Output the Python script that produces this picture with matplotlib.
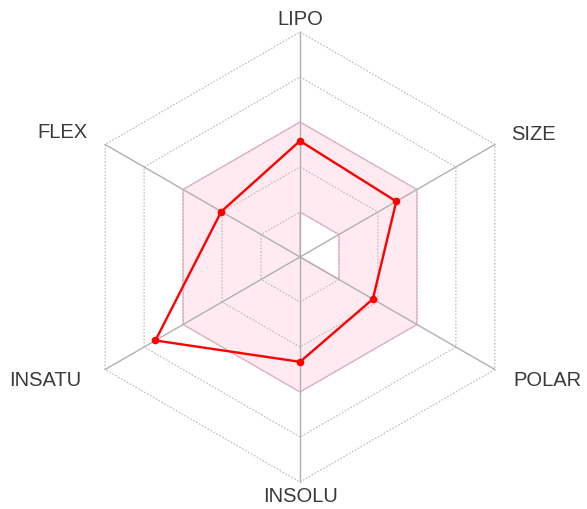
import numpy as np
import matplotlib.pyplot as plt
from matplotlib.patches import PathPatch
from matplotlib.path import Path

labels = ["LIPO", "SIZE", "POLAR", "INSOLU", "INSATU", "FLEX"]
values = [2.58, 2.47, 1.87, 2.33, 3.71, 2.02]
optimal_lo = [1, 1, 1, 0, 0, 0]
optimal_hi = [3, 3, 3, 3, 3, 3]
n_rings = 5

angles = np.deg2rad([90, 30, -30, -90, -150, 150])

def xy(r, a):
    return np.array(r) * np.cos(a), np.array(r) * np.sin(a)

fig = plt.figure(figsize=(5.87, 5.10), dpi=100)
ax = fig.add_axes([0, 0, 1, 1])
u = 45.0
ax.set_xlim(-300 / u, 287 / u)
ax.set_ylim(-252 / u, 258 / u)
ax.set_aspect("equal")
ax.axis("off")

# optimal pink region
ox, oy = xy(optimal_hi, angles)
ix, iy = xy(optimal_lo, angles)
outer = list(zip(ox, oy))
inner = list(zip(ix, iy))[::-1]
verts = outer + [outer[0]] + inner + [inner[0]]
codes = ([Path.MOVETO] + [Path.LINETO] * (len(outer) - 1) + [Path.CLOSEPOLY]
         + [Path.MOVETO] + [Path.LINETO] * (len(inner) - 1) + [Path.CLOSEPOLY])
ax.add_patch(PathPatch(Path(verts, codes), facecolor="#feeaf0", edgecolor="#f2b3c3",
                       lw=1.0, zorder=1))

# rings
for k in range(1, n_rings + 1):
    rx, ry = xy([k] * 6, angles)
    ax.plot(np.append(rx, rx[0]), np.append(ry, ry[0]), color="#b8b8b8", lw=0.8,
            ls=(0, (1.5, 1.5)), zorder=2)

# spokes
for a in angles:
    ax.plot([0, n_rings * np.cos(a)], [0, n_rings * np.sin(a)], color="#b0b0b0",
            lw=1.0, zorder=2)

# data
dx, dy = xy(values, angles)
ax.plot(np.append(dx, dx[0]), np.append(dy, dy[0]), color="#ff0000", lw=1.7, zorder=4)
ax.plot(dx, dy, "o", color="#ff0000", ms=4.5, zorder=5)

# labels
label_pos = [(300, 20), (533, 135), (547, 380), (300, 496), (45, 380), (62, 132)]
for lab, (px, py) in zip(labels, label_pos):
    ax.text((px - 300) / u, (258 - py) / u, lab, ha="center", va="center",
            fontsize=14.5, color="#3a3a3a", family="Liberation Sans")

fig.savefig("out.png", dpi=100)
